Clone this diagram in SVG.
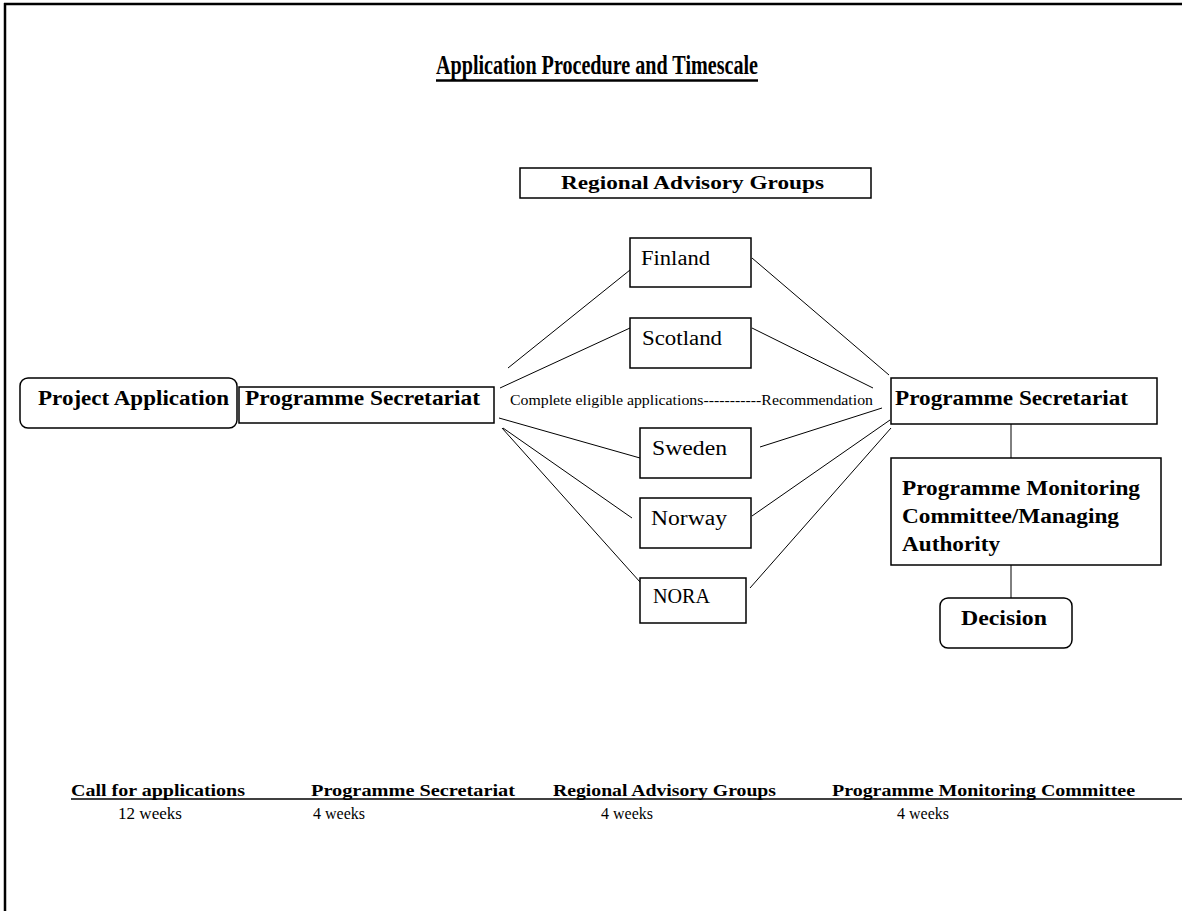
<svg xmlns="http://www.w3.org/2000/svg" width="1182" height="911" viewBox="0 0 1182 911">
<style>
.box{fill:#fff;stroke:#000;stroke-width:1.5}
.ln{stroke:#000;stroke-width:1;fill:none}
.b{font-family:"Liberation Serif","Times New Roman",serif;font-weight:bold;fill:#000}
.n{font-family:"Liberation Serif","Times New Roman",serif;fill:#000}
</style>
<rect x="0" y="0" width="1182" height="911" fill="#fff"/>
<g id="frame">
<line x1="4" y1="4" x2="1182" y2="4" stroke="#000" stroke-width="2.5"/>
<line x1="5" y1="3" x2="5" y2="911" stroke="#000" stroke-width="2.5"/>
</g>
<g id="title">
<text class="b" x="436" y="74" font-size="27" textLength="322" lengthAdjust="spacingAndGlyphs">Application Procedure and Timescale</text>
<line x1="436" y1="80.5" x2="758" y2="80.5" stroke="#000" stroke-width="2.5"/>
</g>
<g id="connectors">
<line class="ln" x1="508" y1="368" x2="630" y2="270"/>
<line class="ln" x1="500" y1="388" x2="630" y2="328"/>
<line class="ln" x1="499" y1="418" x2="640" y2="458"/>
<line class="ln" x1="503" y1="428" x2="632" y2="518"/>
<line class="ln" x1="502" y1="428" x2="640" y2="582"/>
<line class="ln" x1="752" y1="258" x2="889" y2="375"/>
<line class="ln" x1="752" y1="328" x2="873" y2="388"/>
<line class="ln" x1="760" y1="447" x2="882" y2="408"/>
<line class="ln" x1="752" y1="516" x2="890" y2="420"/>
<line class="ln" x1="750" y1="588" x2="891" y2="428"/>
<line class="ln" x1="1011" y1="424" x2="1011" y2="458"/>
<line class="ln" x1="1011" y1="565" x2="1011" y2="598"/>
<text class="n" x="510" y="405" font-size="14" textLength="363" lengthAdjust="spacingAndGlyphs">Complete eligible applications-----------Recommendation</text>
</g>
<g id="project-application">
<rect class="box" x="20" y="378" width="217" height="50" rx="8"/>
<text class="b" x="38" y="405" font-size="20" textLength="191" lengthAdjust="spacingAndGlyphs">Project Application</text>
</g>
<g id="secretariat-left">
<rect class="box" x="239" y="387" width="255" height="36"/>
<text class="b" x="245" y="405" font-size="20" textLength="235" lengthAdjust="spacingAndGlyphs">Programme Secretariat</text>
</g>
<g id="regional-advisory-groups">
<rect class="box" x="520" y="168" width="351" height="30"/>
<text class="b" x="561" y="189" font-size="19" textLength="263" lengthAdjust="spacingAndGlyphs">Regional Advisory Groups</text>
</g>
<g id="finland">
<rect class="box" x="630" y="238" width="121" height="49"/>
<text class="n" x="641" y="265" font-size="20" textLength="69" lengthAdjust="spacingAndGlyphs">Finland</text>
</g>
<g id="scotland">
<rect class="box" x="630" y="318" width="121" height="50"/>
<text class="n" x="642" y="345" font-size="20" textLength="80" lengthAdjust="spacingAndGlyphs">Scotland</text>
</g>
<g id="sweden">
<rect class="box" x="640" y="428" width="111" height="50"/>
<text class="n" x="652" y="455" font-size="20" textLength="75" lengthAdjust="spacingAndGlyphs">Sweden</text>
</g>
<g id="norway">
<rect class="box" x="640" y="498" width="111" height="50"/>
<text class="n" x="651" y="525" font-size="20" textLength="76" lengthAdjust="spacingAndGlyphs">Norway</text>
</g>
<g id="nora">
<rect class="box" x="640" y="578" width="106" height="45"/>
<text class="n" x="653" y="603" font-size="20" textLength="57" lengthAdjust="spacingAndGlyphs">NORA</text>
</g>
<g id="secretariat-right">
<rect class="box" x="891" y="378" width="266" height="46"/>
<text class="b" x="895" y="405" font-size="20" textLength="233" lengthAdjust="spacingAndGlyphs">Programme Secretariat</text>
</g>
<g id="monitoring-committee">
<rect class="box" x="891" y="458" width="270" height="107"/>
<text class="b" x="902" y="495" font-size="20" textLength="238" lengthAdjust="spacingAndGlyphs">Programme Monitoring</text>
<text class="b" x="902" y="523" font-size="20" textLength="217" lengthAdjust="spacingAndGlyphs">Committee/Managing</text>
<text class="b" x="902" y="551" font-size="20" textLength="98" lengthAdjust="spacingAndGlyphs">Authority</text>
</g>
<g id="decision">
<rect class="box" x="940" y="598" width="132" height="50" rx="8"/>
<text class="b" x="961" y="625" font-size="20" textLength="86" lengthAdjust="spacingAndGlyphs">Decision</text>
</g>
<g id="timeline">
<line x1="71" y1="799" x2="1182" y2="799" stroke="#000" stroke-width="1.5"/>
<text class="b" x="71" y="796" font-size="17" textLength="174" lengthAdjust="spacingAndGlyphs">Call for applications</text>
<text class="b" x="311" y="796" font-size="17" textLength="204" lengthAdjust="spacingAndGlyphs">Programme Secretariat</text>
<text class="b" x="553" y="796" font-size="17" textLength="223" lengthAdjust="spacingAndGlyphs">Regional Advisory Groups</text>
<text class="b" x="832" y="796" font-size="17" textLength="303" lengthAdjust="spacingAndGlyphs">Programme Monitoring Committee</text>
<text class="n" x="118" y="819" font-size="17" textLength="64" lengthAdjust="spacingAndGlyphs">12 weeks</text>
<text class="n" x="313" y="819" font-size="17" textLength="52" lengthAdjust="spacingAndGlyphs">4 weeks</text>
<text class="n" x="601" y="819" font-size="17" textLength="52" lengthAdjust="spacingAndGlyphs">4 weeks</text>
<text class="n" x="897" y="819" font-size="17" textLength="52" lengthAdjust="spacingAndGlyphs">4 weeks</text>
</g>
</svg>
